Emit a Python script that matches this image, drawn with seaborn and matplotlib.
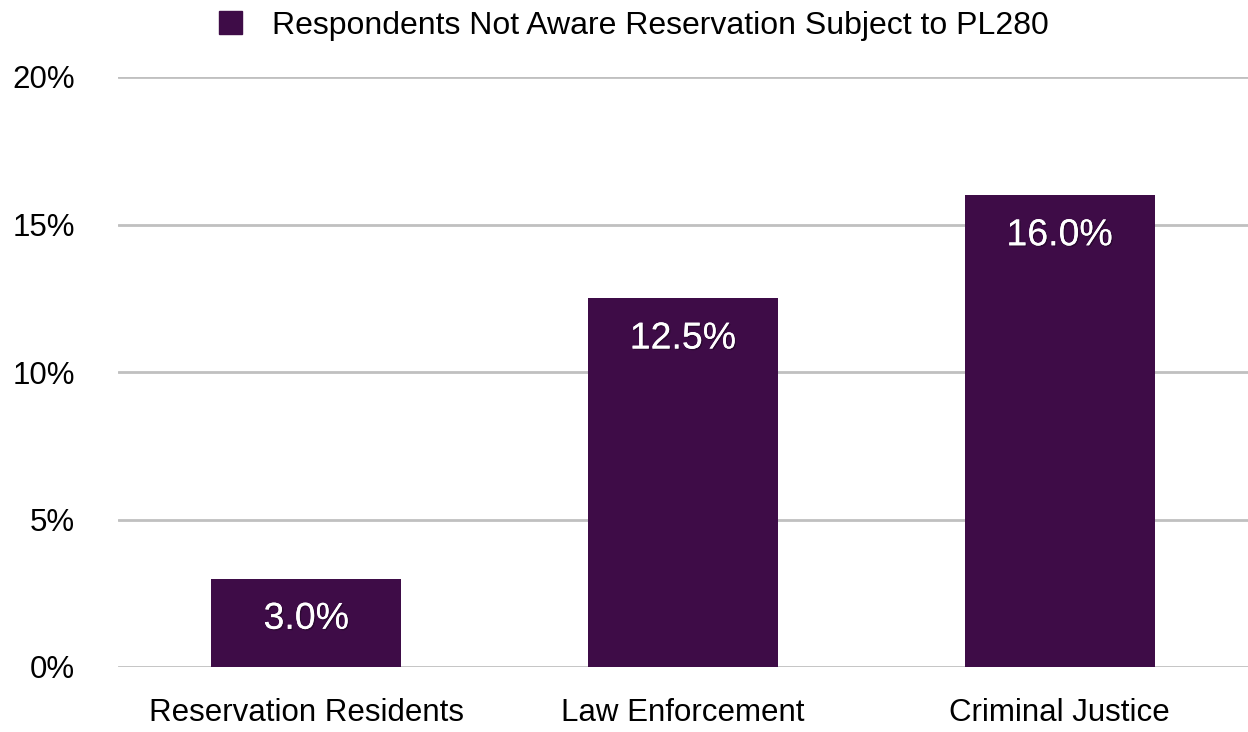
import matplotlib
matplotlib.use('Agg')
import matplotlib.pyplot as plt
import matplotlib.patheffects as pe
import seaborn as sns
import pandas as pd

# data
categories = ['Reservation Residents', 'Law Enforcement', 'Criminal Justice']
values = [3.0, 12.5, 16.0]
series_name = 'Respondents Not Aware Reservation Subject to PL280'
y_ticks = [0, 5, 10, 15, 20]
y_tick_labels = ['0%', '5%', '10%', '15%', '20%']

bar_color = '#3e0c47'
grid_color = '#c0c0c0'

sns.set_theme(style='white')
plt.rcParams['font.family'] = ['Liberation Sans', 'DejaVu Sans']

df = pd.DataFrame({'category': categories, 'value': values, 'series': series_name})

fig = plt.figure(figsize=(12.48, 7.32), dpi=100)
ax = fig.add_axes([118 / 1248, 1 - 667 / 732, 1 - 118 / 1248, (667 - 77) / 732])

sns.barplot(data=df, x='category', y='value', hue='series', palette=[bar_color],
            saturation=1, width=0.505, linewidth=0, ax=ax, legend=False, zorder=3)

ax.set_ylim(0, 20)
ax.set_xlim(-0.5, 2.5)
ax.set_yticks(y_ticks)
ax.set_yticklabels(y_tick_labels)
ax.yaxis.grid(True, color=grid_color, linewidth=2, zorder=0)
ax.set_axisbelow(True)
for s in ax.spines.values():
    s.set_visible(False)
ax.tick_params(axis='y', length=0, pad=31, labelsize=22.5, labelcolor='black')
ax.tick_params(axis='x', length=0, pad=22, labelsize=22.5, labelcolor='black')
ax.set_xlabel('')
ax.set_ylabel('')

# value labels inside top of bars
for patch, v in zip(ax.patches, values):
    x = patch.get_x() + patch.get_width() / 2
    ax.annotate(f'{v:.1f}%', (x, patch.get_height()), xytext=(0, -29),
                textcoords='offset points', ha='center', va='center',
                color='white', fontsize=27, zorder=5,
                path_effects=[pe.withSimplePatchShadow(offset=(1, -1), shadow_rgbFace='black', alpha=0.3),
                              pe.Normal()])

handle = plt.Rectangle((0, 0), 1, 1, color=bar_color)
fig.legend([handle], [series_name], loc='center', bbox_to_anchor=(634 / 1248, 1 - 26 / 732),
           frameon=False, fontsize=23, handlelength=0.72, handleheight=0.72, handletextpad=0.95,
           labelcolor='black')

fig.savefig('out.png', dpi=100)
